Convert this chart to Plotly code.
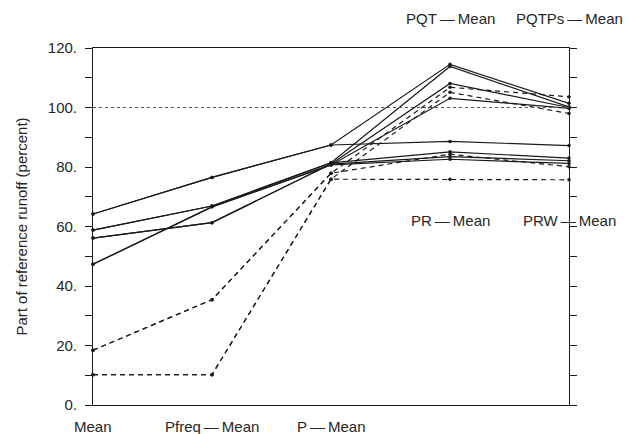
import plotly.graph_objects as go

# Method steps along the horizontal axis (shared first three, then two branches)
steps_common = ["Mean", "Pfreq\u2009\u2014\u2009Mean", "P\u2009\u2014\u2009Mean"]
steps_pqt = ["PQT\u2009\u2014\u2009Mean", "PQTPs\u2009\u2014\u2009Mean"]
steps_pr = ["PR\u2009\u2014\u2009Mean", "PRW\u2009\u2014\u2009Mean"]

# Part of reference runoff (percent) per catchment
common_vals = {
    "A": [64.2, 76.5, 87.4],
    "B": [58.8, 66.9, 81.4],
    "C": [56.1, 61.3, 81.0],
    "D": [47.3, 66.6, 80.7],
    "E": [18.4, 35.4, 77.9],
    "F": [10.2, 10.2, 75.9],
}
pqt_vals = {
    "A": [114.5, 101.4],
    "B": [113.8, 100.2],
    "C": [108.1, 100.0],
    "D": [103.1, 99.7],
    "E": [106.8, 103.6],
    "F": [105.1, 98.0],
}
pr_vals = {
    "A": [88.6, 87.2],
    "B": [85.1, 83.0],
    "C": [83.5, 82.1],
    "D": [82.6, 81.2],
    "E": [84.3, 80.1],
    "F": [75.9, 75.7],
}
line_style = {"A": "solid", "B": "solid", "C": "solid", "D": "solid",
              "E": "5px,4px", "F": "5px,4px"}

y_ticks = [0, 20, 40, 60, 80, 100, 120]
y_ticklabels = [f"{v}." for v in y_ticks]

n_common = len(steps_common)
x_common = list(range(n_common))
x_branch = [n_common - 1, n_common, n_common + 1]

INK = "#1a1a1a"
TEXT = "#262626"
FONT = "Liberation Sans"

fig = go.Figure()
for key in common_vals:
    base = common_vals[key]
    for branch in (pqt_vals, pr_vals):
        xs = x_common + x_branch[1:]
        ys = base + branch[key]
        fig.add_trace(go.Scatter(
            x=xs, y=ys, mode="lines+markers",
            line=dict(color=INK, width=1.2, dash=line_style[key]),
            marker=dict(color=INK, size=3.5),
            cliponaxis=False, showlegend=False, hoverinfo="skip",
        ))

# invisible trace to carry the mirrored right-hand axis
fig.add_trace(go.Scatter(x=[0], y=[0], yaxis="y2", mode="markers",
                         marker=dict(opacity=0), showlegend=False,
                         hoverinfo="skip"))

# reference level at 100 percent
fig.add_shape(type="line", xref="x", yref="y", x0=0, x1=len(steps_common) + 1,
              y0=100, y1=100, line=dict(color="#555", width=1, dash="dot"))

ann_font = dict(family=FONT, size=15, color=TEXT)
for i, name in enumerate(steps_common):
    fig.add_annotation(x=i, y=0, xref="x", yref="y", text=name, showarrow=False,
                       yanchor="middle", yshift=-21, font=ann_font)
for j, name in enumerate(steps_pqt):
    fig.add_annotation(x=n_common + j, y=120, xref="x", yref="y", text=name,
                       showarrow=False, yanchor="middle", yshift=30,
                       font=ann_font)
for j, name in enumerate(steps_pr):
    fig.add_annotation(x=n_common + j, y=62, xref="x", yref="y", text=name,
                       showarrow=False, yanchor="middle", font=ann_font)

fig.update_layout(
    width=629, height=434,
    margin=dict(l=93, r=60, t=48, b=29),
    paper_bgcolor="white", plot_bgcolor="white",
    font=dict(family=FONT, size=15, color=TEXT),
    xaxis=dict(range=[0, n_common + 1], showgrid=False, zeroline=False,
               showticklabels=False, ticks="", showline=True,
               linecolor=INK, linewidth=1, mirror=True),
    yaxis=dict(range=[0, 120], showgrid=False, zeroline=False,
               tickvals=y_ticks, ticktext=y_ticklabels,
               ticks="outside", ticklen=7, tickcolor=INK, tickwidth=1,
               ticklabelstandoff=5,
               minor=dict(dtick=10, ticks="outside", ticklen=7,
                          tickcolor=INK, tickwidth=1, showgrid=False),
               showline=True, linecolor=INK, linewidth=1,
               tickfont=dict(family=FONT, size=15, color=TEXT),
               title=dict(text="Part of reference runoff (percent)",
                          font=dict(family=FONT, size=15, color=TEXT),
                          standoff=16)),
    yaxis2=dict(range=[0, 120], overlaying="y", side="right", anchor="x",
                showgrid=False, zeroline=False, showticklabels=False,
                tickmode="linear", tick0=0, dtick=10,
                ticks="outside", ticklen=7, tickcolor=INK, tickwidth=1,
                showline=True, linecolor=INK, linewidth=1),
)

fig.write_html("out.html")
